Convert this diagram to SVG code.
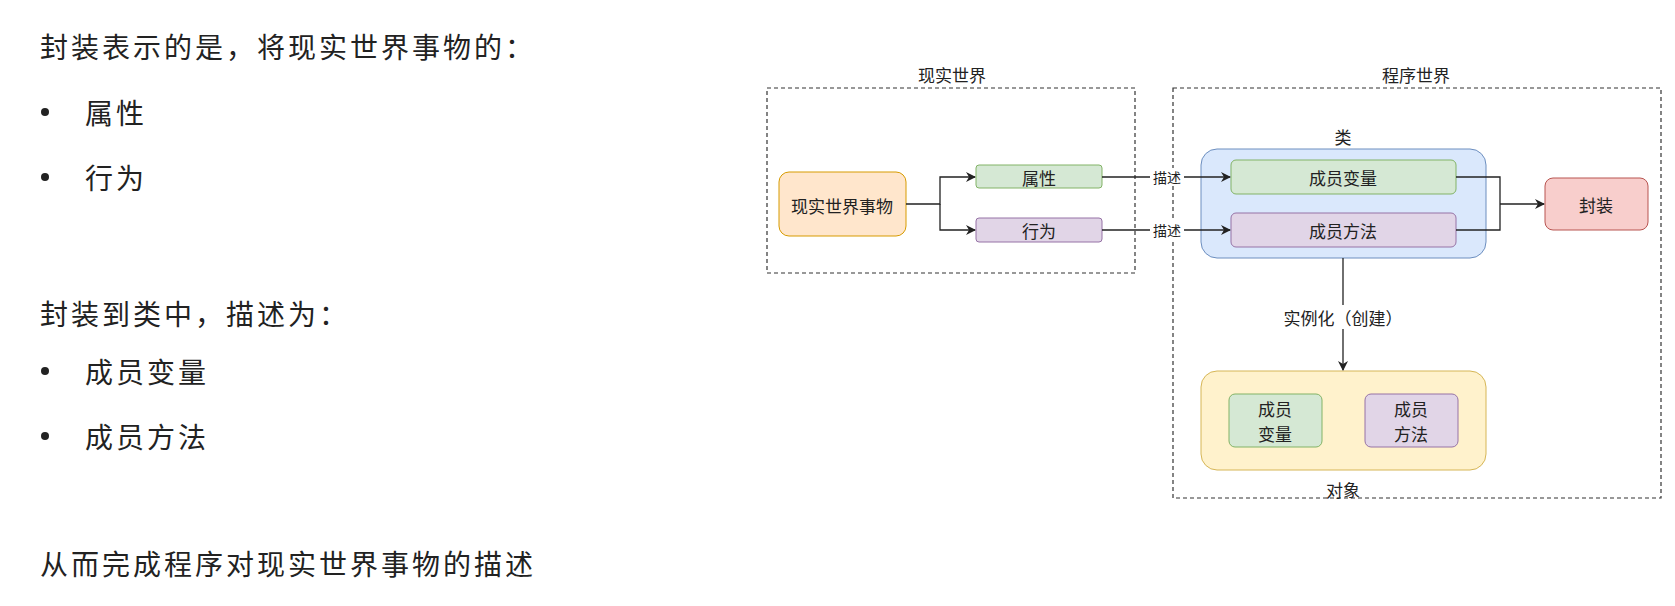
<svg xmlns="http://www.w3.org/2000/svg" width="1675" height="606" viewBox="0 0 1675 606">
<style>
text{font-family:"Noto Sans CJK SC","Noto Sans",sans-serif;fill:#222;dominant-baseline:central}
.p{font-size:28px;letter-spacing:3px}
.n{font-size:17px;text-anchor:middle}
.s{font-size:14px;text-anchor:middle}
.dash{fill:none;stroke:#333;stroke-width:1.2;stroke-dasharray:4 3}
.e{fill:none;stroke:#222;stroke-width:1.3}
</style>
<defs><marker id="a" markerWidth="10" markerHeight="10" refX="9" refY="5" orient="auto" markerUnits="userSpaceOnUse"><path d="M0,0 L10,5 L0,10 L3,5 Z" fill="#222"/></marker></defs>
<rect width="1675" height="606" fill="#fff"/>
<g id="text">
<text class="p" x="40" y="46">封装表示的是，将现实世界事物的：</text>
<circle cx="45" cy="112" r="4" fill="#222"/><text class="p" x="85" y="112">属性</text>
<circle cx="45" cy="177" r="4" fill="#222"/><text class="p" x="85" y="177">行为</text>
<text class="p" x="40" y="313">封装到类中，描述为：</text>
<circle cx="45" cy="371" r="4" fill="#222"/><text class="p" x="85" y="371">成员变量</text>
<circle cx="45" cy="436" r="4" fill="#222"/><text class="p" x="85" y="436">成员方法</text>
<text class="p" x="40" y="563">从而完成程序对现实世界事物的描述</text>
</g>
<g id="real-world"><rect class="dash" x="767" y="88" width="368" height="185"/><text class="n" x="952" y="74">现实世界</text></g>
<g id="program-world"><rect class="dash" x="1173" y="88" width="488" height="410"/><text class="n" x="1416" y="74">程序世界</text></g>
<g id="class"><rect x="1201" y="149" width="285" height="109" rx="16" fill="#dae8fc" stroke="#6c8ebf"/><text class="n" x="1343" y="136">类</text></g>
<g id="object"><rect x="1201" y="371" width="285" height="99" rx="16" fill="#fff2cc" stroke="#d6b656"/><text class="n" x="1343" y="489">对象</text></g>
<g id="thing"><rect x="779" y="172" width="127" height="64" rx="10" fill="#ffe6cc" stroke="#d79b00"/><text class="n" x="842" y="205">现实世界事物</text></g>
<g id="attr"><rect x="976" y="165" width="126" height="23" rx="3" fill="#d5e8d4" stroke="#82b366"/><text class="n" x="1039" y="177">属性</text></g>
<g id="behav"><rect x="976" y="218" width="126" height="24" rx="3" fill="#e1d5e7" stroke="#9673a6"/><text class="n" x="1039" y="230">行为</text></g>
<g id="mvar"><rect x="1231" y="160" width="225" height="34" rx="5" fill="#d5e8d4" stroke="#82b366"/><text class="n" x="1343" y="177">成员变量</text></g>
<g id="mmeth"><rect x="1231" y="213" width="225" height="34" rx="5" fill="#e1d5e7" stroke="#9673a6"/><text class="n" x="1343" y="230">成员方法</text></g>
<g id="encap"><rect x="1545" y="178" width="103" height="52" rx="8" fill="#f8cecc" stroke="#b85450"/><text class="n" x="1596" y="204">封装</text></g>
<g id="ovar"><rect x="1229" y="394" width="93" height="53" rx="6" fill="#d5e8d4" stroke="#82b366"/><text class="n" x="1275" y="408">成员</text><text class="n" x="1275" y="433">变量</text></g>
<g id="ometh"><rect x="1365" y="394" width="93" height="53" rx="6" fill="#e1d5e7" stroke="#9673a6"/><text class="n" x="1411" y="408">成员</text><text class="n" x="1411" y="433">方法</text></g>
<g id="connectors">
<path class="e" d="M906,204 H940 V177 H975" marker-end="url(#a)"/>
<path class="e" d="M940,204 V230 H975" marker-end="url(#a)"/>
<path class="e" d="M1102,177 H1230" marker-end="url(#a)"/>
<path class="e" d="M1102,230 H1230" marker-end="url(#a)"/>
<rect x="1150" y="168" width="34" height="18" fill="#fff"/><text class="s" x="1167" y="177">描述</text>
<rect x="1150" y="221" width="34" height="18" fill="#fff"/><text class="s" x="1167" y="230">描述</text>
<path class="e" d="M1456,177 H1500 V230 H1456"/>
<path class="e" d="M1500,204 H1544" marker-end="url(#a)"/>
<path class="e" d="M1343,258 V370" marker-end="url(#a)"/>
<rect x="1276" y="305" width="134" height="24" fill="#fff"/><text class="n" x="1343" y="317">实例化（创建）</text>
</g>
</svg>
